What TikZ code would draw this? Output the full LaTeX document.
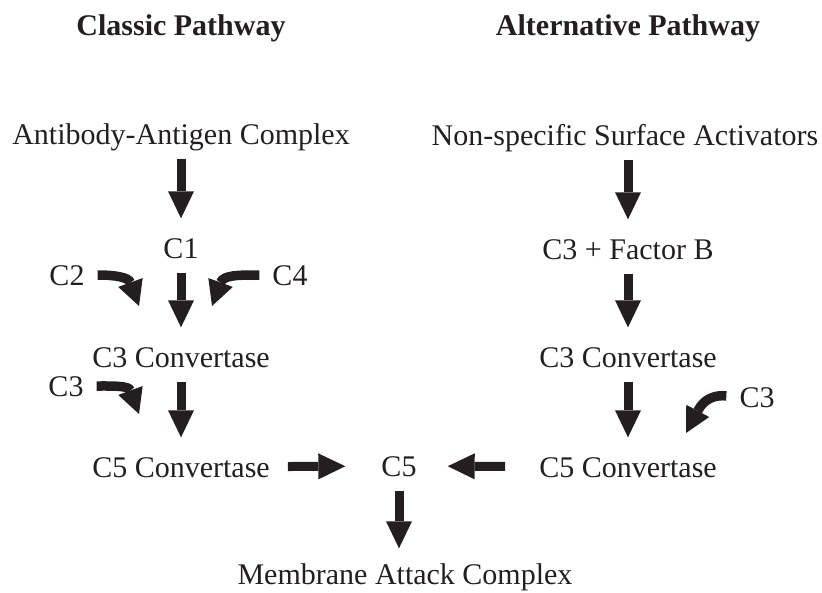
\documentclass[tikz,border=0pt]{standalone}
\usepackage{fontspec}
\setmainfont{Liberation Serif}
\usetikzlibrary{arrows.meta,positioning}
\definecolor{ink}{RGB}{35,31,32}
\tikzset{
  lbl/.style={inner sep=0pt, text height=21pt, text depth=0pt, text=ink,
              font=\fontsize{30}{36}\selectfont},
  ttl/.style={lbl, font=\fontsize{30}{36}\selectfont\bfseries},
  flow/.style={-{Triangle[length=27pt, width=26pt, line width=0pt]}, ink,
               line width=9pt, shorten <=14pt, shorten >=19pt},
  bendarr/.style={-{Triangle[length=25pt, width=26pt, line width=0pt]}, ink,
                  line width=9.5pt, shorten <=13pt, looseness=1.25},
}

\begin{document}
\begin{tikzpicture}[x=1pt, y=-1pt]
  \useasboundingbox (0,0) rectangle (822,592);
  % headings
  \node[ttl] (tcl) at (181,25) {Classic Pathway};
  \node[ttl] (tal) at (628,25) {Alternative Pathway};
  % classic side
  \node[lbl] (ab)  at (181,134) {Antibody-Antigen Complex};
  \node[lbl] (c1)  at (181,248) {C1};
  \node[lbl] (c2)  at (67,275)  {C2};
  \node[lbl] (c4)  at (290,275) {C4};
  \node[lbl] (cvl) at (181,357) {C3 Convertase};
  \node[lbl] (c3l) at (66,386)  {C3};
  \node[lbl] (c5l) at (181,467) {C5 Convertase};
  % alternative side
  \node[lbl] (ns)  at (625,135) {Non-specific Surface Activators};
  \node[lbl] (fb)  at (628,249) {C3 + Factor B};
  \node[lbl] (cvr) at (628,357) {C3 Convertase};
  \node[lbl] (c3r) at (757,397) {C3};
  \node[lbl] (c5r) at (628,467) {C5 Convertase};
  % common end
  \node[lbl] (c5)  at (399,466) {C5};
  \node[lbl] (mac) at (405,574) {Membrane Attack Complex};
  % tips of the side arrows
  \coordinate (c2tip)  at (139,306);
  \coordinate (c4tip)  at (212,306);
  \coordinate (c3ltip) at (139,414);
  \coordinate (c3rtip) at (686,433);

  \draw[flow] (ab) -- (c1);
  \draw[flow] (c1) -- (cvl);
  \draw[flow] (cvl) -- (c5l);
  \draw[flow] (ns.south -| fb) -- (fb);
  \draw[flow] (fb) -- (cvr);
  \draw[flow] (cvr) -- (c5r);
  \draw[flow, shorten <=18pt, shorten >=36pt] (c5l) -- (c5);
  \draw[flow, shorten <=34pt, shorten >=31pt] (c5r) -- (c5);
  \draw[flow, shorten >=15pt] (c5.south) -- (c5.south |- mac.north);

  \draw[bendarr] (c2.east) to[out=0, in=110] (c2tip);
  \draw[bendarr] (c4.west) to[out=180, in=70] (c4tip);
  \draw[bendarr] (c3l.east) to[out=0, in=110] (c3ltip);
  \draw[bendarr] (c3r.west) to[out=175, in=62] (c3rtip);
\end{tikzpicture}
\end{document}
